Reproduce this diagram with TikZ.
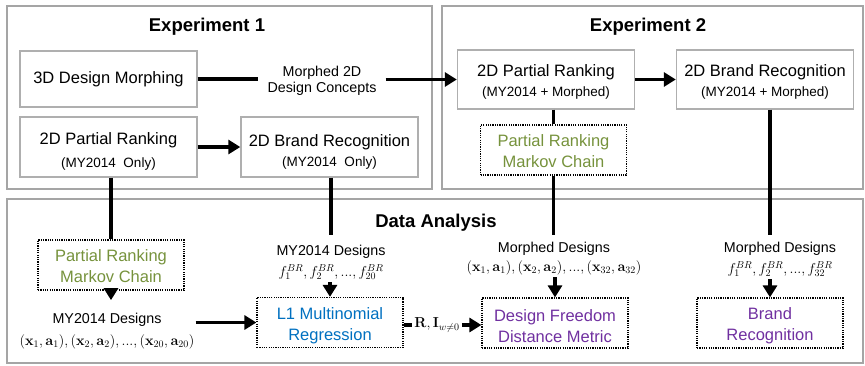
\documentclass[tikz,border=0pt]{standalone}
\usepackage[no-math]{fontspec}
\setmainfont{Liberation Sans}
\usetikzlibrary{arrows.meta}
\definecolor{panelgray}{RGB}{165,165,165}
\definecolor{boxgray}{RGB}{175,175,175}
\definecolor{mcgreen}{RGB}{118,146,60}
\definecolor{regblue}{RGB}{0,112,192}
\definecolor{metpurple}{RGB}{112,48,160}
\newcommand{\subln}[1]{{\fontsize{13.5}{16}\selectfont #1}}
% invisible strut that lowers the text block inside a box
\newcommand{\topgap}[1]{\rule{0pt}{#1pt}}
\begin{document}
\begin{tikzpicture}[x=1pt,y=-1pt,
  panel/.style={draw=panelgray,line width=1.8pt},
  title/.style={font=\bfseries\fontsize{18.5}{22}\selectfont,inner sep=0pt},
  expbox/.style={draw=boxgray,line width=1.4pt,minimum width=177pt,minimum height=58pt,
    inner sep=0pt,align=center,font=\fontsize{16.5}{20}\selectfont},
  dotbox/.style={draw=black,line width=1.2pt,dash pattern=on 1.2pt off 1.1pt,
    minimum width=146pt,minimum height=50pt,inner sep=0pt,align=center,
    font=\fontsize{16.5}{21}\selectfont},
  lbl/.style={font=\fontsize{14.3}{16.5}\selectfont,inner xsep=0pt,inner ysep=1pt,align=center},
  mathlbl/.style={font=\fontsize{14.4}{16}\selectfont,inner sep=1pt},
  conn/.style={line width=3.6pt},
  arr/.style={conn,-{Triangle[length=12pt,width=14pt]}}]
\useasboundingbox (0,0) rectangle (865,365);

% panels
\draw[panel] (7,6) rectangle (432,189);
\draw[panel] (442,6) rectangle (863,189);
\draw[panel] (7,199) rectangle (863,363);

\node[title] (t1) at (207,27) {Experiment 1};
\node[title] (t2) at (648,27) {Experiment 2};
\node[title] (t3) at (436,223) {Data Analysis};

% experiment 1
\node[expbox,minimum height=56pt] (morph) at (108.5,79) {3D Design Morphing};
\node[expbox,minimum height=60pt,font=\fontsize{16.5}{23}\selectfont] (pr1) at (108.5,147)
  {\topgap{20}2D Partial Ranking\\\subln{(MY2014~~Only)}};
\node[expbox,minimum height=60pt] (br1) at (329.5,147)
  {\topgap{21}2D Brand Recognition\\\subln{(MY2014~~Only)}};
\node[lbl,inner xsep=9pt] (concepts) at (322,81) {Morphed 2D\\Design Concepts};

% experiment 2
\node[expbox,minimum height=59pt] (pr2) at (546,79.5)
  {\topgap{17}2D Partial Ranking\\\subln{(MY2014 + Morphed)}};
\node[expbox,minimum height=59pt] (br2) at (765,79.5)
  {\topgap{17}2D Brand Recognition\\\subln{(MY2014 + Morphed)}};
\node[dotbox,text=mcgreen] (mc2) at (553.5,150) {\topgap{14}Partial Ranking\\Markov Chain};

% data analysis
\node[dotbox,text=mcgreen] (mc1) at (111,265) {\topgap{14}Partial Ranking\\Markov Chain};
\node[lbl] (dx) at (107,320) {MY2014 Designs};
\node[mathlbl] (dxm) at (107,342)
  {$(\mathbf{x}_1,\mathbf{a}_1),(\mathbf{x}_2,\mathbf{a}_2),...,(\mathbf{x}_{20},\mathbf{a}_{20})$};
\node[dotbox,text=regblue] (l1) at (330,322.5) {\topgap{18}L1 Multinomial\\Regression};
\node[lbl] (d1) at (331,252) {MY2014 Designs};
\node[mathlbl] (d1m) at (331,272) {$f_1^{BR},f_2^{BR},...,f_{20}^{BR}$};
\node[dotbox,text=metpurple] (dfdm) at (555,323) {\topgap{18}Design Freedom\\Distance Metric};
\node[lbl] (dm) at (554,249) {Morphed Designs};
\node[mathlbl] (dmm) at (554,268)
  {$(\mathbf{x}_1,\mathbf{a}_1),(\mathbf{x}_2,\mathbf{a}_2),...,(\mathbf{x}_{32},\mathbf{a}_{32})$};
\node[dotbox,text=metpurple] (brand) at (770,323) {\topgap{18}Brand\\Recognition};
\node[lbl] (db) at (780,249) {Morphed Designs};
\node[mathlbl] (dbm) at (780,269) {$f_1^{BR},f_2^{BR},...,f_{32}^{BR}$};
\node[mathlbl,inner xsep=2pt] (rw) at (437,325) {$\mathbf{R},\mathbf{I}_{w\neq0}$};

% connectors
\draw[conn] (morph.east) -- (concepts.west |- morph.east);
\draw[arr] (concepts.east |- pr2.west) -- (pr2.west);
\draw[arr] (pr1.east) -- (br1.west);
\draw[arr] (pr2.east) -- (br2.west);
\draw[conn] (pr2.south -| mc2.north) -- (mc2.north);
\draw[conn,shorten >=6pt] (mc2.south) -- (mc2.south |- dm.north);
\draw[conn] (mc1.north |- pr1.south) -- (mc1.north);
\draw[arr,shorten >=12pt] (mc1.south) -- (mc1.south |- dx.north);
\draw[arr] (dxm.east |- l1.west) -- (l1.west);
\draw[conn,shorten >=9pt] (br1.south -| d1.north) -- (d1.north);
\draw[arr,shorten <=1pt] (d1m.south -| l1.north) -- (l1.north);
\draw[conn] (l1.east |- rw.west) -- (rw.west);
\draw[arr] (rw.east) -- (dfdm.west |- rw.east);
\draw[arr,shorten <=1pt] (dmm.south -| dfdm.north) -- (dfdm.north);
\draw[conn,shorten >=6pt] (br2.south -| brand.north) -- (brand.north |- db.north);
\draw[arr,shorten <=1pt] (dbm.south -| brand.north) -- (brand.north);
\end{tikzpicture}
\end{document}
